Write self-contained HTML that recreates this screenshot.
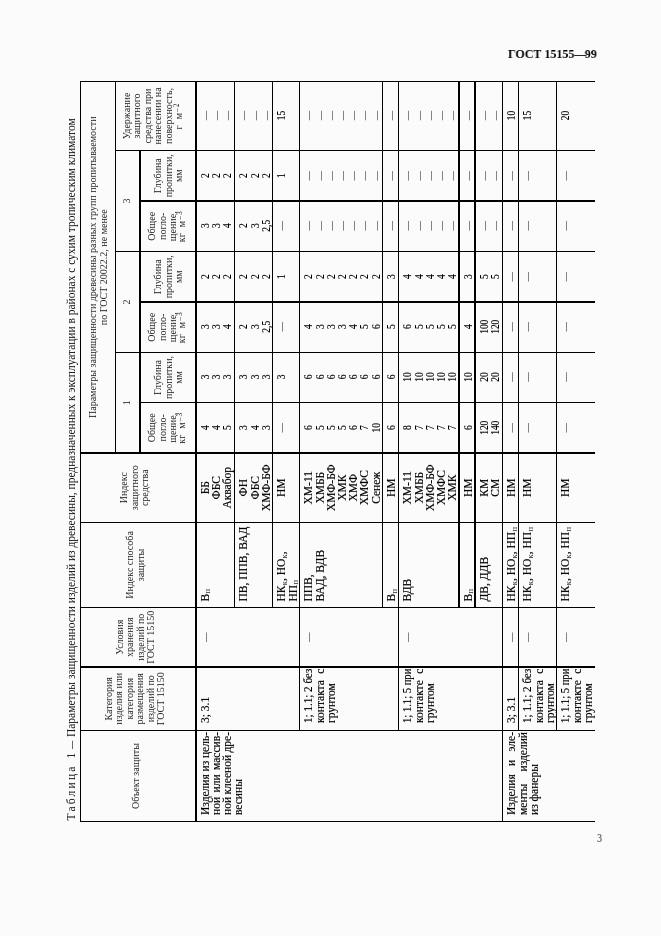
<!DOCTYPE html>
<html><head><meta charset="utf-8"><title>ГОСТ 15155—99</title><style>
html,body{margin:0;padding:0}
body{width:661px;height:936px;background:#fbfbfb;position:relative;overflow:hidden;font-family:"Liberation Serif",serif;color:#111}
#rot{position:absolute;left:0;top:0;width:936px;height:661px;transform-origin:0 0;transform:translate(0,936px) rotate(-90deg);will-change:transform}
.l{position:absolute;display:block}
.c{position:absolute;white-space:nowrap}
.b{font-size:11.5px;line-height:11.2px;color:#000;-webkit-text-stroke:0.2px #000}
.h{font-size:10px;line-height:10.5px;color:#2a2a2a;text-align:center}
.t{font-size:11.5px;line-height:14px;color:#111}
.sp{letter-spacing:2.23px}
.j{display:flex;justify-content:space-between;white-space:nowrap}
sub{-webkit-text-stroke:0;color:#222;font-size:8.5px;vertical-align:baseline;position:relative;top:1.5px;line-height:0;margin-left:0.3px}
sup{font-size:7.5px;vertical-align:baseline;position:relative;top:-3.5px;line-height:0;letter-spacing:1px;margin-left:1px}
.gp{margin-left:6px}
.d{color:#444;-webkit-text-stroke:0}
.up{position:relative;top:-1.5px}
#gost{will-change:transform;position:absolute;left:507.7px;top:46.6px;font-weight:bold;font-size:13px;line-height:14px;white-space:nowrap;color:#000;transform-origin:0 0;transform:scaleX(0.922)}
#pn{will-change:transform;position:absolute;left:597px;top:832.2px;font-size:12px;line-height:12px;color:#222;transform-origin:0 0;transform:scaleX(0.85)}
</style></head>
<body>
<div id="gost">ГОСТ 15155<span style="letter-spacing:-1.8px">—</span>99</div>
<div id="rot">
<i class="l" style="left:114.00px;top:80.00px;width:741.00px;height:1px;background:#000"></i>
<i class="l" style="left:482.50px;top:115.00px;width:372.50px;height:1px;background:#000"></i>
<i class="l" style="left:482.50px;top:139.00px;width:303.50px;height:2px;background:#000"></i>
<i class="l" style="left:114.00px;top:195.00px;width:741.00px;height:2px;background:#000"></i>
<i class="l" style="left:328.00px;top:234.00px;width:527.00px;height:1px;background:#000"></i>
<i class="l" style="left:328.00px;top:272.00px;width:527.00px;height:1px;background:#000"></i>
<i class="l" style="left:205.00px;top:299.00px;width:650.00px;height:1px;background:#000"></i>
<i class="l" style="left:328.00px;top:382.00px;width:527.00px;height:1px;background:#000"></i>
<i class="l" style="left:205.00px;top:398.00px;width:650.00px;height:1px;background:#000"></i>
<i class="l" style="left:328.00px;top:458.00px;width:527.00px;height:2px;background:#000"></i>
<i class="l" style="left:328.00px;top:474.00px;width:527.00px;height:2px;background:#000"></i>
<i class="l" style="left:114.00px;top:502.00px;width:741.00px;height:1px;background:#000"></i>
<i class="l" style="left:205.00px;top:518.00px;width:650.00px;height:1px;background:#000"></i>
<i class="l" style="left:205.00px;top:556.00px;width:650.00px;height:1px;background:#000"></i>
<i class="l" style="left:114.00px;top:80.00px;width:1px;height:515.00px;background:#000"></i>
<i class="l" style="left:205.00px;top:80.00px;width:1px;height:515.00px;background:#000"></i>
<i class="l" style="left:268.00px;top:80.00px;width:2px;height:515.00px;background:#000"></i>
<i class="l" style="left:328.00px;top:80.00px;width:1px;height:515.00px;background:#000"></i>
<i class="l" style="left:413.00px;top:80.00px;width:1px;height:515.00px;background:#000"></i>
<i class="l" style="left:482.00px;top:80.00px;width:2px;height:515.00px;background:#000"></i>
<i class="l" style="left:533.00px;top:139.50px;width:1px;height:455.50px;background:#000"></i>
<i class="l" style="left:583.00px;top:115.00px;width:1px;height:480.00px;background:#000"></i>
<i class="l" style="left:633.00px;top:139.50px;width:2px;height:455.50px;background:#000"></i>
<i class="l" style="left:684.00px;top:115.00px;width:1px;height:480.00px;background:#000"></i>
<i class="l" style="left:734.00px;top:139.50px;width:2px;height:455.50px;background:#000"></i>
<i class="l" style="left:785.00px;top:115.00px;width:1px;height:480.00px;background:#000"></i>
<i class="l" style="left:854.00px;top:80.00px;width:1px;height:515.00px;background:#000"></i>
<div class="c h" style="left:114.50px;top:130.75px;width:91.00px;text-align:center;">Объект защиты</div>
<div class="c h" style="left:205.50px;top:103.50px;width:63.50px;text-align:center;">Категория<br>изделия или<br>категория<br>размещения<br>изделий по<br>ГОСТ 15150</div>
<div class="c h" style="left:269.00px;top:114.60px;width:59.50px;text-align:center;">Условия<br>хранения<br>изделий по<br>ГОСТ 15150</div>
<div class="c h" style="left:328.50px;top:125.10px;width:85.00px;text-align:center;">Индекс способа<br>защиты</div>
<div class="c h" style="left:413.50px;top:119.25px;width:69.50px;text-align:center;">Индекс<br>защитного<br>средства</div>
<div class="c h" style="left:483.00px;top:86.85px;width:371.50px;text-align:center;line-height:11.25px">Параметры защищенности древесины разных групп пропитываемости<br>по ГОСТ 20022.2, не менее</div>
<div class="c h" style="left:483.00px;top:122.45px;width:100.50px;text-align:center;">1</div>
<div class="c h" style="left:583.50px;top:122.45px;width:101.00px;text-align:center;">2</div>
<div class="c h" style="left:684.50px;top:122.45px;width:101.00px;text-align:center;">3</div>
<div class="c h" style="left:483.00px;top:147.00px;width:50.50px;text-align:center;">Общее<br>погло-<br>щение,<br><span class="up">кг<span class="gp">м</span><sup>–3</sup></span></div>
<div class="c h" style="left:533.50px;top:153.00px;width:50.00px;text-align:center;">Глубина<br>пропитки,<br>мм</div>
<div class="c h" style="left:583.50px;top:147.00px;width:50.50px;text-align:center;">Общее<br>погло-<br>щение,<br><span class="up">кг<span class="gp">м</span><sup>–3</sup></span></div>
<div class="c h" style="left:634.00px;top:153.00px;width:50.50px;text-align:center;">Глубина<br>пропитки,<br>мм</div>
<div class="c h" style="left:684.50px;top:147.00px;width:50.50px;text-align:center;">Общее<br>погло-<br>щение,<br><span class="up">кг<span class="gp">м</span><sup>–3</sup></span></div>
<div class="c h" style="left:735.00px;top:153.00px;width:50.50px;text-align:center;">Глубина<br>пропитки,<br>мм</div>
<div class="c h" style="left:785.50px;top:121.90px;width:69.00px;text-align:center;">Удержание<br>защитного<br>средства при<br>нанесении на<br>поверхность,<br>г<span class="gp">м</span><sup>–2</sup></div>
<div class="c b" style="left:328.50px;top:199.80px;width:85.00px;text-align:left;padding-left:6px;box-sizing:border-box;">В<sub>п</sub></div>
<div class="c b" style="left:413.50px;top:199.80px;width:69.50px;text-align:center;">ББ<br>ФБС<br>Аквабор</div>
<div class="c b" style="left:483.00px;top:199.80px;width:50.50px;text-align:center;transform:scaleX(0.82);">4<br>4<br>5</div>
<div class="c b" style="left:533.50px;top:199.80px;width:50.00px;text-align:center;transform:scaleX(0.82);">3<br>3<br>3</div>
<div class="c b" style="left:583.50px;top:199.80px;width:50.50px;text-align:center;transform:scaleX(0.82);">3<br>3<br>4</div>
<div class="c b" style="left:634.00px;top:199.80px;width:50.50px;text-align:center;transform:scaleX(0.82);">2<br>2<br>2</div>
<div class="c b" style="left:684.50px;top:199.80px;width:50.50px;text-align:center;transform:scaleX(0.82);">3<br>3<br>4</div>
<div class="c b" style="left:735.00px;top:199.80px;width:50.50px;text-align:center;transform:scaleX(0.82);">2<br>2<br>2</div>
<div class="c b" style="left:785.50px;top:199.80px;width:69.00px;text-align:center;transform:scaleX(0.82);"><span class="d">—</span><br><span class="d">—</span><br><span class="d">—</span></div>
<div class="c b" style="left:328.50px;top:238.30px;width:85.00px;text-align:left;padding-left:6px;box-sizing:border-box;">ПВ, ППВ, ВАД</div>
<div class="c b" style="left:413.50px;top:238.30px;width:69.50px;text-align:center;">ФН<br>ФБС<br>ХМФ-БФ</div>
<div class="c b" style="left:483.00px;top:238.30px;width:50.50px;text-align:center;transform:scaleX(0.82);">3<br>4<br>3</div>
<div class="c b" style="left:533.50px;top:238.30px;width:50.00px;text-align:center;transform:scaleX(0.82);">3<br>3<br>3</div>
<div class="c b" style="left:583.50px;top:238.30px;width:50.50px;text-align:center;transform:scaleX(0.82);">2<br>3<br>2,5</div>
<div class="c b" style="left:634.00px;top:238.30px;width:50.50px;text-align:center;transform:scaleX(0.82);">2<br>2<br>2</div>
<div class="c b" style="left:684.50px;top:238.30px;width:50.50px;text-align:center;transform:scaleX(0.82);">2<br>3<br>2,5</div>
<div class="c b" style="left:735.00px;top:238.30px;width:50.50px;text-align:center;transform:scaleX(0.82);">2<br>2<br>2</div>
<div class="c b" style="left:785.50px;top:238.30px;width:69.00px;text-align:center;transform:scaleX(0.82);"><span class="d">—</span><br><span class="d">—</span><br><span class="d">—</span></div>
<div class="c b" style="left:328.50px;top:276.30px;width:85.00px;text-align:left;padding-left:6px;box-sizing:border-box;">НК<sub>к</sub>, НО<sub>к</sub>,<br>НП<sub>п</sub></div>
<div class="c b" style="left:413.50px;top:276.30px;width:69.50px;text-align:center;">НМ</div>
<div class="c b" style="left:483.00px;top:276.30px;width:50.50px;text-align:center;transform:scaleX(0.82);"><span class="d">—</span></div>
<div class="c b" style="left:533.50px;top:276.30px;width:50.00px;text-align:center;transform:scaleX(0.82);">3</div>
<div class="c b" style="left:583.50px;top:276.30px;width:50.50px;text-align:center;transform:scaleX(0.82);"><span class="d">—</span></div>
<div class="c b" style="left:634.00px;top:276.30px;width:50.50px;text-align:center;transform:scaleX(0.82);">1</div>
<div class="c b" style="left:684.50px;top:276.30px;width:50.50px;text-align:center;transform:scaleX(0.82);"><span class="d">—</span></div>
<div class="c b" style="left:735.00px;top:276.30px;width:50.50px;text-align:center;transform:scaleX(0.82);">1</div>
<div class="c b" style="left:785.50px;top:276.30px;width:69.00px;text-align:center;transform:scaleX(0.82);">15</div>
<div class="c b" style="left:328.50px;top:303.30px;width:85.00px;text-align:left;padding-left:6px;box-sizing:border-box;">ППВ,<br>ВАД, ВДВ</div>
<div class="c b" style="left:413.50px;top:303.30px;width:69.50px;text-align:center;">ХМ-11<br>ХМББ<br>ХМФ-БФ<br>ХМК<br>ХМФ<br>ХМФС<br>Сенеж</div>
<div class="c b" style="left:483.00px;top:303.30px;width:50.50px;text-align:center;transform:scaleX(0.82);">6<br>5<br>5<br>5<br>6<br>7<br>10</div>
<div class="c b" style="left:533.50px;top:303.30px;width:50.00px;text-align:center;transform:scaleX(0.82);">6<br>6<br>6<br>6<br>6<br>6<br>6</div>
<div class="c b" style="left:583.50px;top:303.30px;width:50.50px;text-align:center;transform:scaleX(0.82);">4<br>3<br>3<br>3<br>4<br>5<br>6</div>
<div class="c b" style="left:634.00px;top:303.30px;width:50.50px;text-align:center;transform:scaleX(0.82);">2<br>2<br>2<br>2<br>2<br>2<br>2</div>
<div class="c b" style="left:684.50px;top:303.30px;width:50.50px;text-align:center;transform:scaleX(0.82);"><span class="d">—</span><br><span class="d">—</span><br><span class="d">—</span><br><span class="d">—</span><br><span class="d">—</span><br><span class="d">—</span><br><span class="d">—</span></div>
<div class="c b" style="left:735.00px;top:303.30px;width:50.50px;text-align:center;transform:scaleX(0.82);"><span class="d">—</span><br><span class="d">—</span><br><span class="d">—</span><br><span class="d">—</span><br><span class="d">—</span><br><span class="d">—</span><br><span class="d">—</span></div>
<div class="c b" style="left:785.50px;top:303.30px;width:69.00px;text-align:center;transform:scaleX(0.82);"><span class="d">—</span><br><span class="d">—</span><br><span class="d">—</span><br><span class="d">—</span><br><span class="d">—</span><br><span class="d">—</span><br><span class="d">—</span></div>
<div class="c b" style="left:328.50px;top:386.30px;width:85.00px;text-align:left;padding-left:6px;box-sizing:border-box;">В<sub>п</sub></div>
<div class="c b" style="left:413.50px;top:386.30px;width:69.50px;text-align:center;">НМ</div>
<div class="c b" style="left:483.00px;top:386.30px;width:50.50px;text-align:center;transform:scaleX(0.82);">6</div>
<div class="c b" style="left:533.50px;top:386.30px;width:50.00px;text-align:center;transform:scaleX(0.82);">6</div>
<div class="c b" style="left:583.50px;top:386.30px;width:50.50px;text-align:center;transform:scaleX(0.82);">5</div>
<div class="c b" style="left:634.00px;top:386.30px;width:50.50px;text-align:center;transform:scaleX(0.82);">3</div>
<div class="c b" style="left:684.50px;top:386.30px;width:50.50px;text-align:center;transform:scaleX(0.82);"><span class="d">—</span></div>
<div class="c b" style="left:735.00px;top:386.30px;width:50.50px;text-align:center;transform:scaleX(0.82);"><span class="d">—</span></div>
<div class="c b" style="left:785.50px;top:386.30px;width:69.00px;text-align:center;transform:scaleX(0.82);"><span class="d">—</span></div>
<div class="c b" style="left:328.50px;top:402.30px;width:85.00px;text-align:left;padding-left:6px;box-sizing:border-box;">ВДВ</div>
<div class="c b" style="left:413.50px;top:402.30px;width:69.50px;text-align:center;">ХМ-11<br>ХМББ<br>ХМФ-БФ<br>ХМФС<br>ХМК</div>
<div class="c b" style="left:483.00px;top:402.30px;width:50.50px;text-align:center;transform:scaleX(0.82);">8<br>7<br>7<br>7<br>7</div>
<div class="c b" style="left:533.50px;top:402.30px;width:50.00px;text-align:center;transform:scaleX(0.82);">10<br>10<br>10<br>10<br>10</div>
<div class="c b" style="left:583.50px;top:402.30px;width:50.50px;text-align:center;transform:scaleX(0.82);">6<br>5<br>5<br>5<br>5</div>
<div class="c b" style="left:634.00px;top:402.30px;width:50.50px;text-align:center;transform:scaleX(0.82);">4<br>4<br>4<br>4<br>4</div>
<div class="c b" style="left:684.50px;top:402.30px;width:50.50px;text-align:center;transform:scaleX(0.82);"><span class="d">—</span><br><span class="d">—</span><br><span class="d">—</span><br><span class="d">—</span><br><span class="d">—</span></div>
<div class="c b" style="left:735.00px;top:402.30px;width:50.50px;text-align:center;transform:scaleX(0.82);"><span class="d">—</span><br><span class="d">—</span><br><span class="d">—</span><br><span class="d">—</span><br><span class="d">—</span></div>
<div class="c b" style="left:785.50px;top:402.30px;width:69.00px;text-align:center;transform:scaleX(0.82);"><span class="d">—</span><br><span class="d">—</span><br><span class="d">—</span><br><span class="d">—</span><br><span class="d">—</span></div>
<div class="c b" style="left:328.50px;top:462.80px;width:85.00px;text-align:left;padding-left:6px;box-sizing:border-box;">В<sub>п</sub></div>
<div class="c b" style="left:413.50px;top:462.80px;width:69.50px;text-align:center;">НМ</div>
<div class="c b" style="left:483.00px;top:462.80px;width:50.50px;text-align:center;transform:scaleX(0.82);">6</div>
<div class="c b" style="left:533.50px;top:462.80px;width:50.00px;text-align:center;transform:scaleX(0.82);">10</div>
<div class="c b" style="left:583.50px;top:462.80px;width:50.50px;text-align:center;transform:scaleX(0.82);">4</div>
<div class="c b" style="left:634.00px;top:462.80px;width:50.50px;text-align:center;transform:scaleX(0.82);">3</div>
<div class="c b" style="left:684.50px;top:462.80px;width:50.50px;text-align:center;transform:scaleX(0.82);"><span class="d">—</span></div>
<div class="c b" style="left:735.00px;top:462.80px;width:50.50px;text-align:center;transform:scaleX(0.82);"><span class="d">—</span></div>
<div class="c b" style="left:785.50px;top:462.80px;width:69.00px;text-align:center;transform:scaleX(0.82);"><span class="d">—</span></div>
<div class="c b" style="left:328.50px;top:478.80px;width:85.00px;text-align:left;padding-left:6px;box-sizing:border-box;">ДВ, ДДВ</div>
<div class="c b" style="left:413.50px;top:478.80px;width:69.50px;text-align:center;">КМ<br>СМ</div>
<div class="c b" style="left:483.00px;top:478.80px;width:50.50px;text-align:center;transform:scaleX(0.82);">120<br>140</div>
<div class="c b" style="left:533.50px;top:478.80px;width:50.00px;text-align:center;transform:scaleX(0.82);">20<br>20</div>
<div class="c b" style="left:583.50px;top:478.80px;width:50.50px;text-align:center;transform:scaleX(0.82);">100<br>120</div>
<div class="c b" style="left:634.00px;top:478.80px;width:50.50px;text-align:center;transform:scaleX(0.82);">5<br>5</div>
<div class="c b" style="left:684.50px;top:478.80px;width:50.50px;text-align:center;transform:scaleX(0.82);"><span class="d">—</span><br><span class="d">—</span></div>
<div class="c b" style="left:735.00px;top:478.80px;width:50.50px;text-align:center;transform:scaleX(0.82);"><span class="d">—</span><br><span class="d">—</span></div>
<div class="c b" style="left:785.50px;top:478.80px;width:69.00px;text-align:center;transform:scaleX(0.82);"><span class="d">—</span><br><span class="d">—</span></div>
<div class="c b" style="left:328.50px;top:506.30px;width:85.00px;text-align:left;padding-left:6px;box-sizing:border-box;">НК<sub>к</sub>, НО<sub>к</sub>, НП<sub>п</sub></div>
<div class="c b" style="left:413.50px;top:506.30px;width:69.50px;text-align:center;">НМ</div>
<div class="c b" style="left:483.00px;top:506.30px;width:50.50px;text-align:center;transform:scaleX(0.82);"><span class="d">—</span></div>
<div class="c b" style="left:533.50px;top:506.30px;width:50.00px;text-align:center;transform:scaleX(0.82);"><span class="d">—</span></div>
<div class="c b" style="left:583.50px;top:506.30px;width:50.50px;text-align:center;transform:scaleX(0.82);"><span class="d">—</span></div>
<div class="c b" style="left:634.00px;top:506.30px;width:50.50px;text-align:center;transform:scaleX(0.82);"><span class="d">—</span></div>
<div class="c b" style="left:684.50px;top:506.30px;width:50.50px;text-align:center;transform:scaleX(0.82);"><span class="d">—</span></div>
<div class="c b" style="left:735.00px;top:506.30px;width:50.50px;text-align:center;transform:scaleX(0.82);"><span class="d">—</span></div>
<div class="c b" style="left:785.50px;top:506.30px;width:69.00px;text-align:center;transform:scaleX(0.82);">10</div>
<div class="c b" style="left:328.50px;top:522.30px;width:85.00px;text-align:left;padding-left:6px;box-sizing:border-box;">НК<sub>к</sub>, НО<sub>к</sub>, НП<sub>п</sub></div>
<div class="c b" style="left:413.50px;top:522.30px;width:69.50px;text-align:center;">НМ</div>
<div class="c b" style="left:483.00px;top:522.30px;width:50.50px;text-align:center;transform:scaleX(0.82);"><span class="d">—</span></div>
<div class="c b" style="left:533.50px;top:522.30px;width:50.00px;text-align:center;transform:scaleX(0.82);"><span class="d">—</span></div>
<div class="c b" style="left:583.50px;top:522.30px;width:50.50px;text-align:center;transform:scaleX(0.82);"><span class="d">—</span></div>
<div class="c b" style="left:634.00px;top:522.30px;width:50.50px;text-align:center;transform:scaleX(0.82);"><span class="d">—</span></div>
<div class="c b" style="left:684.50px;top:522.30px;width:50.50px;text-align:center;transform:scaleX(0.82);"><span class="d">—</span></div>
<div class="c b" style="left:735.00px;top:522.30px;width:50.50px;text-align:center;transform:scaleX(0.82);"><span class="d">—</span></div>
<div class="c b" style="left:785.50px;top:522.30px;width:69.00px;text-align:center;transform:scaleX(0.82);">15</div>
<div class="c b" style="left:328.50px;top:560.30px;width:85.00px;text-align:left;padding-left:6px;box-sizing:border-box;">НК<sub>к</sub>, НО<sub>к</sub>, НП<sub>п</sub></div>
<div class="c b" style="left:413.50px;top:560.30px;width:69.50px;text-align:center;">НМ</div>
<div class="c b" style="left:483.00px;top:560.30px;width:50.50px;text-align:center;transform:scaleX(0.82);"><span class="d">—</span></div>
<div class="c b" style="left:533.50px;top:560.30px;width:50.00px;text-align:center;transform:scaleX(0.82);"><span class="d">—</span></div>
<div class="c b" style="left:583.50px;top:560.30px;width:50.50px;text-align:center;transform:scaleX(0.82);"><span class="d">—</span></div>
<div class="c b" style="left:634.00px;top:560.30px;width:50.50px;text-align:center;transform:scaleX(0.82);"><span class="d">—</span></div>
<div class="c b" style="left:684.50px;top:560.30px;width:50.50px;text-align:center;transform:scaleX(0.82);"><span class="d">—</span></div>
<div class="c b" style="left:735.00px;top:560.30px;width:50.50px;text-align:center;transform:scaleX(0.82);"><span class="d">—</span></div>
<div class="c b" style="left:785.50px;top:560.30px;width:69.00px;text-align:center;transform:scaleX(0.82);">20</div>
<div class="c b" style="left:121.00px;top:199.80px;width:83.00px;text-align:left"><div class="j"><span>Изделия</span><span>из</span><span>цель-</span></div><div class="j"><span>ной</span><span>или</span><span>массив-</span></div><div class="j"><span>ной</span><span>клееной</span><span>дре-</span></div><div>весины</div></div>
<div class="c b" style="left:121.00px;top:506.30px;width:83.00px;text-align:left"><div class="j"><span>Изделия</span><span>и</span><span>эле-</span></div><div class="j"><span>менты</span><span>изделий</span></div><div>из фанеры</div></div>
<div class="c b" style="left:213.00px;top:199.80px;width:54.30px;text-align:left"><div>3; 3.1</div></div>
<div class="c b" style="left:213.00px;top:303.30px;width:54.30px;text-align:left"><div style="white-space:nowrap;transform-origin:0 0;transform:scaleX(0.963)">1; 1.1; 2 без</div><div class="j"><span>контакта</span><span>с</span></div><div>грунтом</div></div>
<div class="c b" style="left:213.00px;top:402.30px;width:54.30px;text-align:left"><div style="white-space:nowrap;transform-origin:0 0;transform:scaleX(0.922)">1; 1.1; 5 при</div><div class="j"><span>контакте</span><span>с</span></div><div>грунтом</div></div>
<div class="c b" style="left:213.00px;top:506.30px;width:54.30px;text-align:left"><div>3; 3.1</div></div>
<div class="c b" style="left:213.00px;top:522.30px;width:54.30px;text-align:left"><div style="white-space:nowrap;transform-origin:0 0;transform:scaleX(0.963)">1; 1.1; 2 без</div><div class="j"><span>контакта</span><span>с</span></div><div>грунтом</div></div>
<div class="c b" style="left:213.00px;top:560.30px;width:54.30px;text-align:left"><div style="white-space:nowrap;transform-origin:0 0;transform:scaleX(0.922)">1; 1.1; 5 при</div><div class="j"><span>контакте</span><span>с</span></div><div>грунтом</div></div>
<div class="c b" style="left:269.00px;top:199.80px;width:59.50px;text-align:center;transform:scaleX(0.82);"><span class="d">—</span></div>
<div class="c b" style="left:269.00px;top:303.30px;width:59.50px;text-align:center;transform:scaleX(0.82);"><span class="d">—</span></div>
<div class="c b" style="left:269.00px;top:402.30px;width:59.50px;text-align:center;transform:scaleX(0.82);"><span class="d">—</span></div>
<div class="c b" style="left:269.00px;top:506.30px;width:59.50px;text-align:center;transform:scaleX(0.82);"><span class="d">—</span></div>
<div class="c b" style="left:269.00px;top:522.30px;width:59.50px;text-align:center;transform:scaleX(0.82);"><span class="d">—</span></div>
<div class="c b" style="left:269.00px;top:560.30px;width:59.50px;text-align:center;transform:scaleX(0.82);"><span class="d">—</span></div>
<div class="c t" style="left:115.50px;top:63.7px;white-space:nowrap;transform-origin:0 0;"><span class="sp">Таблица</span></div>
<div class="c t" style="left:177.60px;top:63.7px;white-space:nowrap;transform-origin:0 0;">1</div>
<div class="c t" style="left:186.70px;top:63.7px;white-space:nowrap;transform-origin:0 0;transform:scaleX(0.72);">—</div>
<div class="c t" style="left:198.50px;top:63.7px;white-space:nowrap;transform-origin:0 0;transform:scaleX(0.996);">Параметры защищенности изделий из древесины, предназначенных к эксплуатации в районах с сухим тропическим климатом</div>
</div>
<div id="pn">3</div>
</body></html>
